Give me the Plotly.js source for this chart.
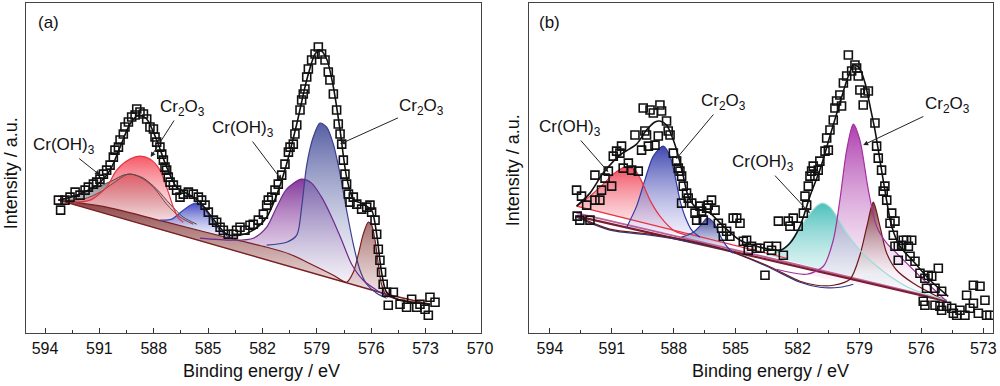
<!DOCTYPE html>
<html><head><meta charset="utf-8">
<script src="https://cdn.plot.ly/plotly-3.0.1.min.js"></script>
<style>html,body{margin:0;padding:0;background:#fff}#chart{width:1000px;height:386px}</style>
</head><body><div id="chart"></div>
<script>
// ---------- Panel (a): [binding energy eV, intensity a.u.] ----------
const expA = [[593.26,133],[593.14,123],[592.90,133],[592.62,136],[592.34,141],[592.07,138],[591.79,143],[591.61,146],[591.33,149],[591.15,151],[590.97,154],[590.78,159],[590.60,163],[590.41,168],[590.23,176],[590.14,183],[589.95,186],[589.86,193],[589.68,199],[589.59,206],[589.40,211],[589.22,216],[589.03,218],[588.94,224],[588.76,221],[588.57,219],[588.39,214],[588.21,206],[588.02,204],[587.93,196],[587.84,191],[587.66,186],[587.56,179],[587.47,173],[587.38,166],[587.29,163],[587.20,156],[587.10,151],[586.92,148],[586.74,143],[586.55,136],[586.37,139],[586.09,141],[585.82,139],[585.54,136],[585.36,133],[585.17,128],[584.99,121],[584.71,113],[584.53,111],[584.34,106],[584.16,103],[583.89,99],[583.61,99],[583.43,103],[583.24,106],[582.97,103],[582.69,108],[582.51,109],[582.23,113],[581.95,119],[581.77,128],[581.68,133],[581.49,136],[581.31,143],[581.13,149],[580.94,158],[580.76,169],[580.57,181],[580.48,186],[580.30,189],[580.21,199],[580.11,208],[579.93,223],[579.84,233],[579.75,239],[579.66,244],[579.56,256],[579.47,264],[579.29,273],[579.10,279],[578.92,286],[578.74,279],[578.55,273],[578.37,261],[578.28,253],[578.09,239],[577.91,223],[577.82,209],[577.72,199],[577.63,189],[577.54,173],[577.45,159],[577.36,149],[577.26,139],[577.17,131],[576.99,136],[576.80,129],[576.53,124],[576.25,126],[576.07,128],[575.98,121],[575.79,113],[575.70,99],[575.61,84],[575.52,73],[575.43,61],[575.34,49],[575.15,41],[575.06,28],[574.78,41],[574.41,29],[574.05,26],[573.77,34],[573.49,26],[573.31,29],[573.03,24],[572.85,18],[572.76,36],[572.48,31]];
const envA = [[593.26,133],[592.25,138],[591.15,148],[590.41,163],[589.86,186],[589.31,209],[588.85,218],[588.39,214],[587.84,193],[587.29,166],[586.74,146],[586.00,138],[585.45,131],[584.71,114],[583.98,99],[583.24,98],[582.51,103],[581.77,116],[581.22,138],[580.67,169],[580.11,209],[579.56,253],[579.10,279],[578.83,283],[578.46,274],[578.09,246],[577.72,203],[577.36,156],[576.99,134],[576.44,129],[575.98,123],[575.70,99],[575.43,61],[575.15,41],[574.41,33],[572.76,29]];
const bgLowA = [[593.26,133],[577.36,50],[575.15,39],[572.76,29]];
const bgUpA = [[593.26,133],[590.60,126],[587.29,111],[583.61,94],[581.77,86],[580.48,79],[579.20,68],[578.09,58],[577.36,51],[575.15,38],[572.76,29]];
const grayA = [[593.26,133],[592.07,139],[590.97,147],[590.23,153],[589.68,158],[589.22,159],[588.57,155],[587.84,144],[587.10,129],[586.37,116],[585.63,109]];
const ohA1 = [[593.26,133],[591.89,134],[590.97,141],[590.23,150],[589.40,159],[588.76,156],[588.02,146],[587.29,129],[586.55,116],[585.82,109]];
const oxA1 = [[592.44,131],[591.52,133],[590.60,146],[590.05,163],[589.31,174],[588.76,177],[588.21,174],[587.66,163],[587.29,146],[586.92,126],[586.64,115],[586.37,111]];
const satA = [[587.66,113],[587.01,114],[586.37,123],[585.72,130],[585.26,126],[584.90,116],[584.34,103],[583.79,95]];
const ohA2 = [[585.45,95],[583.61,93],[582.51,95],[581.77,106],[581.22,126],[580.67,144],[579.84,154],[579.29,150],[578.74,136],[578.18,116],[577.63,93],[577.08,69],[576.44,53],[575.70,43],[575.06,36]];
const oxA2 = [[581.77,88],[580.67,91],[580.11,98],[579.84,126],[579.56,168],[579.20,196],[578.83,210],[578.46,206],[578.09,189],[577.72,159],[577.36,123],[576.99,89],[576.62,63],[576.25,49],[575.70,40],[575.15,35]];
const lowA = [[593.26,133],[590.60,126],[587.29,111],[583.61,94],[581.77,86],[580.48,79],[579.20,68],[578.09,58],[577.36,51],[576.99,61],[576.71,79],[576.44,99],[576.16,111],[575.98,108],[575.79,93],[575.61,69],[575.43,49],[575.15,38],[572.76,29]];

// ---------- Panel (b) ----------
const expB = [[592.68,117],[592.55,113],[592.71,143],[592.47,137],[592.22,128],[592.06,113],[591.82,158],[591.82,133],[591.58,133],[591.50,143],[591.33,155],[591.17,162],[591.01,147],[590.93,177],[590.77,182],[590.61,180],[590.53,187],[590.45,165],[590.20,170],[590.04,163],[589.88,198],[589.72,162],[589.56,183],[589.48,225],[589.40,202],[589.32,198],[589.23,187],[589.15,223],[588.99,220],[588.91,188],[588.75,197],[588.67,228],[588.59,222],[588.35,212],[588.27,202],[588.18,198],[588.02,180],[587.86,172],[587.78,165],[587.70,162],[587.62,157],[587.54,147],[587.62,130],[587.38,140],[587.30,135],[587.13,130],[586.97,120],[586.89,113],[586.73,127],[586.65,122],[586.57,113],[586.41,125],[586.33,128],[586.17,133],[586.00,123],[585.84,110],[585.68,105],[585.60,97],[585.44,102],[585.28,97],[585.12,115],[584.95,115],[584.79,110],[584.63,92],[584.47,93],[584.39,83],[584.23,87],[583.98,85],[583.82,85],[583.58,58],[583.42,87],[583.26,83],[583.02,87],[582.93,112],[582.69,78],[582.45,112],[582.37,107],[582.21,115],[581.97,107],[581.72,120],[581.64,137],[581.56,128],[581.48,147],[581.40,157],[581.32,162],[581.24,167],[581.16,157],[581.00,163],[580.92,172],[580.67,182],[580.59,195],[580.51,183],[580.43,203],[580.27,213],[580.19,225],[580.11,232],[579.95,238],[579.87,227],[579.78,250],[579.62,257],[579.54,278],[579.38,262],[579.22,268],[579.14,265],[579.06,257],[578.98,243],[578.73,240],[578.57,242],[578.82,228],[578.25,210],[578.17,187],[578.09,175],[577.93,163],[577.85,142],[577.77,147],[577.68,133],[577.44,120],[577.52,110],[577.28,112],[577.36,98],[577.28,87],[577.12,87],[576.88,93],[576.72,93],[576.47,93],[576.96,88],[576.63,87],[577.12,73],[576.55,77],[576.31,72],[576.07,60],[575.83,55],[575.67,58],[575.50,57],[575.18,65],[575.75,45],[575.34,45],[575.02,42],[575.91,32],[575.83,28],[575.34,28],[575.10,27],[575.02,23],[574.78,27],[574.53,25],[574.45,20],[574.29,18],[574.13,23],[573.89,18],[573.81,38],[573.65,25],[573.48,48],[573.16,47],[573.48,30],[573.24,20],[572.92,33],[572.84,18],[572.68,18]];
const envB = [[592.71,127],[592.06,140],[591.42,160],[590.61,178],[589.80,189],[589.32,203],[588.91,211],[588.67,212],[588.35,208],[588.02,193],[587.78,177],[587.54,157],[587.30,137],[586.89,125],[586.25,120],[585.60,107],[584.79,93],[583.82,86],[582.85,83],[582.37,90],[581.88,107],[581.40,137],[580.92,163],[580.43,197],[579.95,230],[579.54,257],[579.27,268],[579.01,265],[578.73,250],[578.49,227],[578.25,203],[578.01,173],[577.77,143],[577.44,107],[577.04,87],[576.39,72],[575.58,53],[574.70,37]];
const bgB = [[592.71,117],[583.74,75],[574.78,32]];
const bgPinkB = [[592.71,120],[583.74,77],[574.78,33]];
const redLineB = [[592.71,127],[582.53,75]];
const sagB = [[592.71,116],[591.09,103],[589.15,98],[587.38,92],[585.44,83],[583.50,67],[581.88,51],[580.92,46],[579.95,46],[579.30,49]];
const ohB1 = [[592.71,127],[592.06,137],[591.42,149],[590.93,159],[590.37,166],[589.88,163],[589.56,152],[589.15,133],[588.67,117],[588.02,103],[587.38,98]];
const oxB1 = [[590.28,106],[589.80,127],[589.40,153],[588.99,177],[588.51,187],[588.18,177],[587.94,157],[587.70,133],[587.46,117],[587.13,103],[586.73,96]];
const satB = [[587.62,96],[587.05,101],[586.65,109],[586.38,115],[586.08,111],[585.76,98],[585.44,87],[585.12,80]];
const ohB2 = [[583.50,78],[582.69,84],[582.05,100],[581.56,115],[581.08,127],[580.79,130],[580.43,126],[580.11,117],[579.62,100],[578.98,83],[578.33,70],[577.52,57],[576.55,45],[574.78,33]];
const oxB2 = [[583.02,64],[581.56,59],[580.75,67],[580.27,93],[579.95,133],[579.62,183],[579.30,209],[578.98,193],[578.57,143],[578.17,107],[577.68,90],[577.20,80],[576.07,57],[574.78,32]];
const lowB = [[592.71,117],[591.09,104],[589.15,99],[587.38,93],[585.44,83],[583.50,68],[581.88,52],[581.08,48],[580.27,48],[579.46,54],[578.98,78],[578.65,106],[578.33,131],[578.01,107],[577.68,80],[577.20,63],[576.39,50],[574.78,32]];

const tickVals = [594,591,588,585,582,579,576,573,570];

const F = 'Liberation Sans, Arial, sans-serif';
const X = p => p.map(d => d[0]);
const Y = p => p.map(d => d[1]);
function closeTo(comp, bg) {
  const xs = X(comp), lo = Math.min(...xs), hi = Math.max(...xs);
  const b = bg.filter(d => d[0] > lo && d[0] < hi).sort((a, c) => a[0] - c[0]);
  return comp.concat(b);
}
function fillT(poly, ax, top, bottom) {
  return {x: X(poly), y: Y(poly), xaxis: ax[0], yaxis: ax[1], mode: 'lines',
    line: {width: 0, shape: 'spline', smoothing: 0.8}, fill: 'toself',
    fillgradient: {type: 'vertical', colorscale: [[0, bottom], [1, top]]},
    hoverinfo: 'skip', showlegend: false};
}
function lineT(p, ax, color, w, shape) {
  return {x: X(p), y: Y(p), xaxis: ax[0], yaxis: ax[1], mode: 'lines',
    line: {color: color, width: w || 1.2, shape: shape || 'spline', smoothing: 0.8},
    hoverinfo: 'skip', showlegend: false};
}
function expT(p, ax) {
  return {x: X(p), y: Y(p), xaxis: ax[0], yaxis: ax[1], mode: 'markers',
    marker: {symbol: 'square-open', size: 8, color: '#111', line: {width: 1.6, color: '#111'}},
    showlegend: false};
}
const A = ['x', 'y'], B = ['x2', 'y2'];
const W = 'rgba(255,255,255,0.35)';
const traces = [
  fillT(closeTo(grayA, bgUpA), A, 'rgba(105,105,105,0.95)', 'rgba(235,235,235,0.6)'),
  fillT(closeTo(ohA1, bgUpA), A, 'rgba(165,45,55,0.9)', 'rgba(250,225,225,0.5)'),
  fillT(closeTo(oxA1, bgUpA), A, 'rgba(245,70,85,0.9)', 'rgba(250,220,225,0.35)'),
  fillT(closeTo(satA, bgUpA), A, 'rgba(45,55,190,0.9)', 'rgba(230,230,250,0.4)'),
  fillT(closeTo(ohA2, bgUpA), A, 'rgba(120,35,145,0.9)', W),
  fillT(closeTo(oxA2, bgUpA), A, 'rgba(55,65,145,0.85)', W),
  fillT(closeTo(lowA, bgLowA), A, 'rgba(125,45,45,0.9)', 'rgba(245,230,230,0.6)'),
  lineT(bgLowA, A, '#7a1f22', 1.4, 'linear'),
  lineT(lowA, A, '#7a1f22', 1.2),
  lineT(oxA2, A, '#3a3f8f', 1.2),
  lineT(ohA2, A, '#6e2a8c', 1.2),
  lineT(satA, A, '#3b44b8', 1.2),
  lineT(ohA1, A, '#8e3a44', 1.0),
  lineT(grayA, A, '#4d4d4d', 1.0),
  lineT(oxA1, A, '#e8333f', 1.2),
  lineT(envA, A, '#111', 1.6),
  expT(expA, A),

  fillT(closeTo(ohB1, redLineB), B, 'rgba(240,60,80,0.9)', 'rgba(252,225,230,0.45)'),
  fillT(closeTo(oxB1, bgB), B, 'rgba(40,50,165,0.9)', 'rgba(225,220,250,0.45)'),
  fillT(closeTo(satB, bgB), B, 'rgba(45,55,145,0.9)', 'rgba(230,230,250,0.45)'),
  fillT(closeTo(ohB2, bgB), B, 'rgba(55,185,180,0.9)', W),
  fillT(closeTo(oxB2, bgB), B, 'rgba(165,40,165,0.9)', W),
  fillT(closeTo(lowB.filter(d => d[0] <= 579.5 && d[0] >= 577.1), bgB), B, 'rgba(110,30,30,0.9)', W),
  lineT(bgPinkB, B, '#c0609a', 1.8, 'linear'),
  lineT(bgB, B, '#7a1f30', 2.2, 'linear'),
  lineT(sagB, B, '#2d3585', 1.2),
  lineT(redLineB, B, '#e8333f', 1.2, 'linear'),
  lineT(lowB, B, '#6e1a1a', 1.2),
  lineT(ohB2, B, '#9fdcd6', 1.2),
  lineT(oxB2, B, '#a3309f', 1.2),
  lineT(oxB1, B, '#2f3aa0', 1.2),
  lineT(satB, B, '#2f3aa0', 1.2),
  lineT(ohB1, B, '#e8333f', 1.2),
  lineT(envB, B, '#111', 1.6),
  expT(expB, B)
];

function xAxis(dom, rng, anchor) {
  return {domain: dom, range: rng, anchor: anchor, tickmode: 'array', tickvals: tickVals,
    ticks: 'inside', ticklen: 5, tickwidth: 1, tickcolor: '#333',
    minor: {tickmode: 'linear', tick0: 570, dtick: 1.5, ticks: 'inside', ticklen: 3, tickcolor: '#333'},
    showline: true, linecolor: '#444', linewidth: 1, mirror: true, showgrid: false, zeroline: false,
    tickfont: {family: F, size: 16, color: '#111'}, fixedrange: true};
}
function yAxis(dom, anchor) {
  return {domain: dom, range: [0, 330], anchor: anchor, showticklabels: false, ticks: '',
    showline: true, linecolor: '#444', linewidth: 1, mirror: true, showgrid: false, zeroline: false, fixedrange: true};
}
function arrow(xr, yr, x, y, ax, ay, text) {
  return {xref: xr, yref: yr, axref: xr, ayref: yr, x: x, y: y, ax: ax, ay: ay, text: text,
    showarrow: true, arrowhead: 2, arrowsize: 1, arrowwidth: 1, arrowcolor: '#222', standoff: 0,
    font: {family: F, size: 17, color: '#111'}};
}
function txt(x, y, text, extra) {
  return Object.assign({xref: 'paper', yref: 'paper', x: x, y: y, text: text, showarrow: false,
    font: {family: F, size: 18, color: '#111'}}, extra || {});
}
const OH = 'Cr(OH)<sub>3</sub>', OX = 'Cr<sub>2</sub>O<sub>3</sub>';
const layout = {
  width: 1000, height: 386, margin: {l: 0, r: 0, t: 0, b: 0},
  paper_bgcolor: '#fff', plot_bgcolor: '#fff', showlegend: false,
  xaxis: xAxis([0.026, 0.4807], [595.05, 569.96], 'y'),
  yaxis: yAxis([0.1365, 0.9925], 'x'),
  xaxis2: xAxis([0.5293, 0.993], [595.0, 572.53], 'y2'),
  yaxis2: yAxis([0.1365, 0.9925], 'x2'),
  annotations: [
    arrow('x', 'y', 590.97, 158, 592.98, 187, OH),
    arrow('x', 'y', 588.17, 176, 586.44, 225, OX),
    arrow('x', 'y', 580.94, 153, 583.07, 204, OH),
    arrow('x', 'y', 577.72, 189, 573.20, 226, OX),
    arrow('x2', 'y2', 591.17, 161, 593.03, 205, OH),
    arrow('x2', 'y2', 587.89, 174, 585.57, 231, OX),
    arrow('x2', 'y2', 581.40, 120, 583.66, 170, OH),
    arrow('x2', 'y2', 578.82, 188, 574.74, 228, OX),
    txt(0.036, 0.943, '(a)', {xanchor: 'left', yanchor: 'middle', font: {family: F, size: 17, color: '#111'}}),
    txt(0.537, 0.943, '(b)', {xanchor: 'left', yanchor: 'middle', font: {family: F, size: 17, color: '#111'}}),
    txt(0.261, 0.039, 'Binding energy / eV', {xanchor: 'center', yanchor: 'middle'}),
    txt(0.770, 0.039, 'Binding energy / eV', {xanchor: 'center', yanchor: 'middle'}),
    txt(0.0108, 0.5505, 'Intensity / a.u.', {xanchor: 'center', yanchor: 'middle', textangle: -90}),
    txt(0.5133, 0.5596, 'Intensity / a.u.', {xanchor: 'center', yanchor: 'middle', textangle: -90})
  ]
};
Plotly.newPlot('chart', traces, layout, {staticPlot: true, displayModeBar: false});
</script></body></html>
